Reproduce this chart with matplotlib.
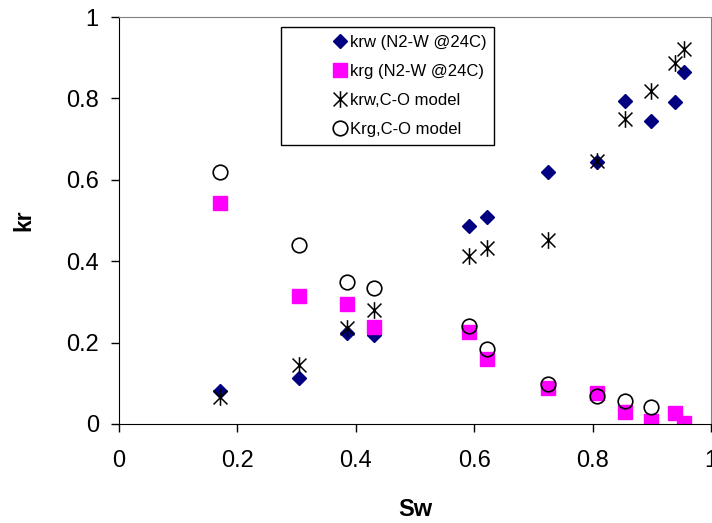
import matplotlib
matplotlib.use("Agg")
import matplotlib.pyplot as plt
from matplotlib.path import Path

plt.rcParams['font.family'] = ['Liberation Sans', 'DejaVu Sans']

# Data
sw = [0.170, 0.304, 0.385, 0.430, 0.592, 0.621, 0.724, 0.808, 0.854, 0.898, 0.940, 0.955]
krw_exp = [0.081, 0.113, 0.224, 0.219, 0.486, 0.509, 0.619, 0.644, 0.794, 0.744, 0.791, 0.865]
krg_exp = [0.543, 0.314, 0.295, 0.238, 0.226, 0.160, 0.088, 0.076, 0.030, 0.007, 0.026, 0.003]
krw_model = [0.067, 0.145, 0.236, 0.280, 0.413, 0.432, 0.452, 0.647, 0.749, 0.817, 0.886, 0.921]
sw_krg_model = [0.170, 0.304, 0.385, 0.430, 0.592, 0.621, 0.724, 0.808, 0.854, 0.898]
krg_model = [0.620, 0.440, 0.350, 0.333, 0.241, 0.184, 0.098, 0.069, 0.056, 0.041]

labels = ['krw (N2-W @24C)', 'krg (N2-W @24C)', 'krw,C-O model', 'Krg,C-O model']
ticks = [0, 0.2, 0.4, 0.6, 0.8, 1]
tick_labels = ['0', '0.2', '0.4', '0.6', '0.8', '1']

# Excel-like star marker: X plus vertical bar
star = Path([(-1, -1), (1, 1), (-1, 1), (1, -1), (0, -1.2), (0, 1.2)],
            [Path.MOVETO, Path.LINETO, Path.MOVETO, Path.LINETO, Path.MOVETO, Path.LINETO])

fig = plt.figure(figsize=(7.12, 5.23), dpi=100)
ax = fig.add_axes([119/712, 1-424/523, 592/712, 407/523])

ax.plot(sw, krw_exp, linestyle='none', marker='D', ms=7.3, color='#000080', mec='#000080', label=labels[0])
ax.plot(sw, krg_exp, linestyle='none', marker='s', ms=9.8, color='#FF00FF', mec='#FF00FF', label=labels[1])
ax.plot(sw, krw_model, linestyle='none', marker=star, ms=12, color='black', mew=1.1, label=labels[2])
ax.plot(sw_krg_model, krg_model, linestyle='none', marker='o', ms=10.5, mfc='none', mec='black', mew=1.2, label=labels[3])

ax.set_xlim(0, 1)
ax.set_ylim(0, 1)
ax.set_xticks(ticks)
ax.set_xticklabels(tick_labels)
ax.set_yticks(ticks)
ax.set_yticklabels(tick_labels)
ax.tick_params(axis='both', direction='out', length=6, width=1, labelsize=17)
ax.tick_params(axis='x', pad=12.5)
ax.tick_params(axis='y', pad=8.5)

for s in ['top', 'right']:
    ax.spines[s].set_color('#808080')
for s in ['left', 'bottom']:
    ax.spines[s].set_color('black')

ax.set_xlabel('Sw', fontsize=17, fontweight='bold', labelpad=19)
ax.set_ylabel('kr', fontsize=16.5, fontweight='bold', labelpad=22)

leg = ax.legend(loc='upper left', bbox_to_anchor=((281-119)/592, (424-27)/407),
                borderaxespad=0, fontsize=12, frameon=True, fancybox=False,
                edgecolor='black', framealpha=1, numpoints=1,
                handlelength=6.2, handletextpad=-2.49, labelspacing=0.85,
                borderpad=0.45)
leg.get_frame().set_linewidth(1.0)

fig.savefig('out.png', dpi=100)
